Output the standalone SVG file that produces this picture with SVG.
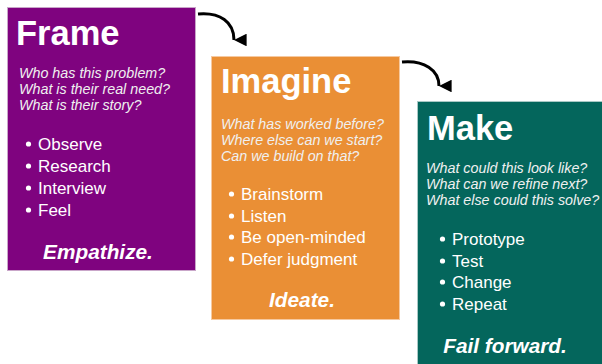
<svg xmlns="http://www.w3.org/2000/svg" width="602" height="364" viewBox="0 0 602 364">
<style>
.box{stroke-width:1}
.title{font-family:"Liberation Sans",Arial,sans-serif;font-weight:bold;font-size:34.5px;fill:#fff}
.q{font-family:"Liberation Sans",Arial,sans-serif;font-style:italic;font-size:14.3px;fill:#f0f0f0}
.b{font-family:"Liberation Sans",Arial,sans-serif;font-size:17px;fill:#fff}
.tag{font-family:"Liberation Sans",Arial,sans-serif;font-weight:bold;font-style:italic;font-size:20.8px;fill:#fff;text-anchor:middle}
.dot{fill:#fff}
.conn{fill:none;stroke:#000;stroke-width:3}
</style>
<defs>
<marker id="ah" viewBox="0 0 10 10" refX="5" refY="10" markerWidth="4.2" markerHeight="4.2" orient="auto-start-reverse" markerUnits="strokeWidth">
<path d="M0,0 L10,0 L5,10 Z" fill="#000"/>
</marker>
</defs>
<rect width="602" height="364" fill="#fff"/>
<g id="frame">
<rect class="box" x="7.5" y="7.5" width="188" height="263" fill="#7f037f" stroke="#c9a6c9"/>
<text class="title" x="16" y="45">Frame</text>
<text class="q" x="19" y="78">Who has this problem?</text>
<text class="q" x="19" y="94">What is their real need?</text>
<text class="q" x="19" y="110">What is their story?</text>
<circle class="dot" cx="28.5" cy="144" r="2.6"/><text class="b" x="38" y="150">Observe</text>
<circle class="dot" cx="28.5" cy="166" r="2.6"/><text class="b" x="38" y="172">Research</text>
<circle class="dot" cx="28.5" cy="188" r="2.6"/><text class="b" x="38" y="194">Interview</text>
<circle class="dot" cx="28.5" cy="210" r="2.6"/><text class="b" x="38" y="216">Feel</text>
<text class="tag" x="98" y="259">Empathize.</text>
</g>
<g id="imagine">
<rect class="box" x="211.5" y="56.5" width="188" height="263" fill="#ea8f35" stroke="#f6c9a0"/>
<text class="title" x="221" y="93">Imagine</text>
<text class="q" x="221" y="129">What has worked before?</text>
<text class="q" x="221" y="145">Where else can we start?</text>
<text class="q" x="221" y="161">Can we build on that?</text>
<circle class="dot" cx="231.5" cy="194" r="2.6"/><text class="b" x="241" y="200">Brainstorm</text>
<circle class="dot" cx="231.5" cy="216" r="2.6"/><text class="b" x="241" y="222">Listen</text>
<circle class="dot" cx="231.5" cy="237" r="2.6"/><text class="b" x="241" y="243">Be open-minded</text>
<circle class="dot" cx="231.5" cy="259" r="2.6"/><text class="b" x="241" y="265">Defer judgment</text>
<text class="tag" x="302" y="307">Ideate.</text>
</g>
<g id="make">
<rect class="box" x="417.5" y="101.5" width="190" height="270" fill="#04665c" stroke="#a9c9c5"/>
<text class="title" x="427" y="140">Make</text>
<text class="q" x="426" y="173">What could this look like?</text>
<text class="q" x="426" y="189">What can we refine next?</text>
<text class="q" x="426" y="205">What else could this solve?</text>
<circle class="dot" cx="442.5" cy="239" r="2.6"/><text class="b" x="452" y="245">Prototype</text>
<circle class="dot" cx="442.5" cy="261" r="2.6"/><text class="b" x="452" y="267">Test</text>
<circle class="dot" cx="442.5" cy="282" r="2.6"/><text class="b" x="452" y="288">Change</text>
<circle class="dot" cx="442.5" cy="304" r="2.6"/><text class="b" x="452" y="310">Repeat</text>
<text class="tag" x="505" y="353">Fail forward.</text>
</g>
<g id="connectors">
<path class="conn" d="M198,14 C220,12 234,22 234,40" marker-end="url(#ah)"/>
<path class="conn" d="M402,62 C424,60 439,70 439,86" marker-end="url(#ah)"/>
</g>
</svg>
